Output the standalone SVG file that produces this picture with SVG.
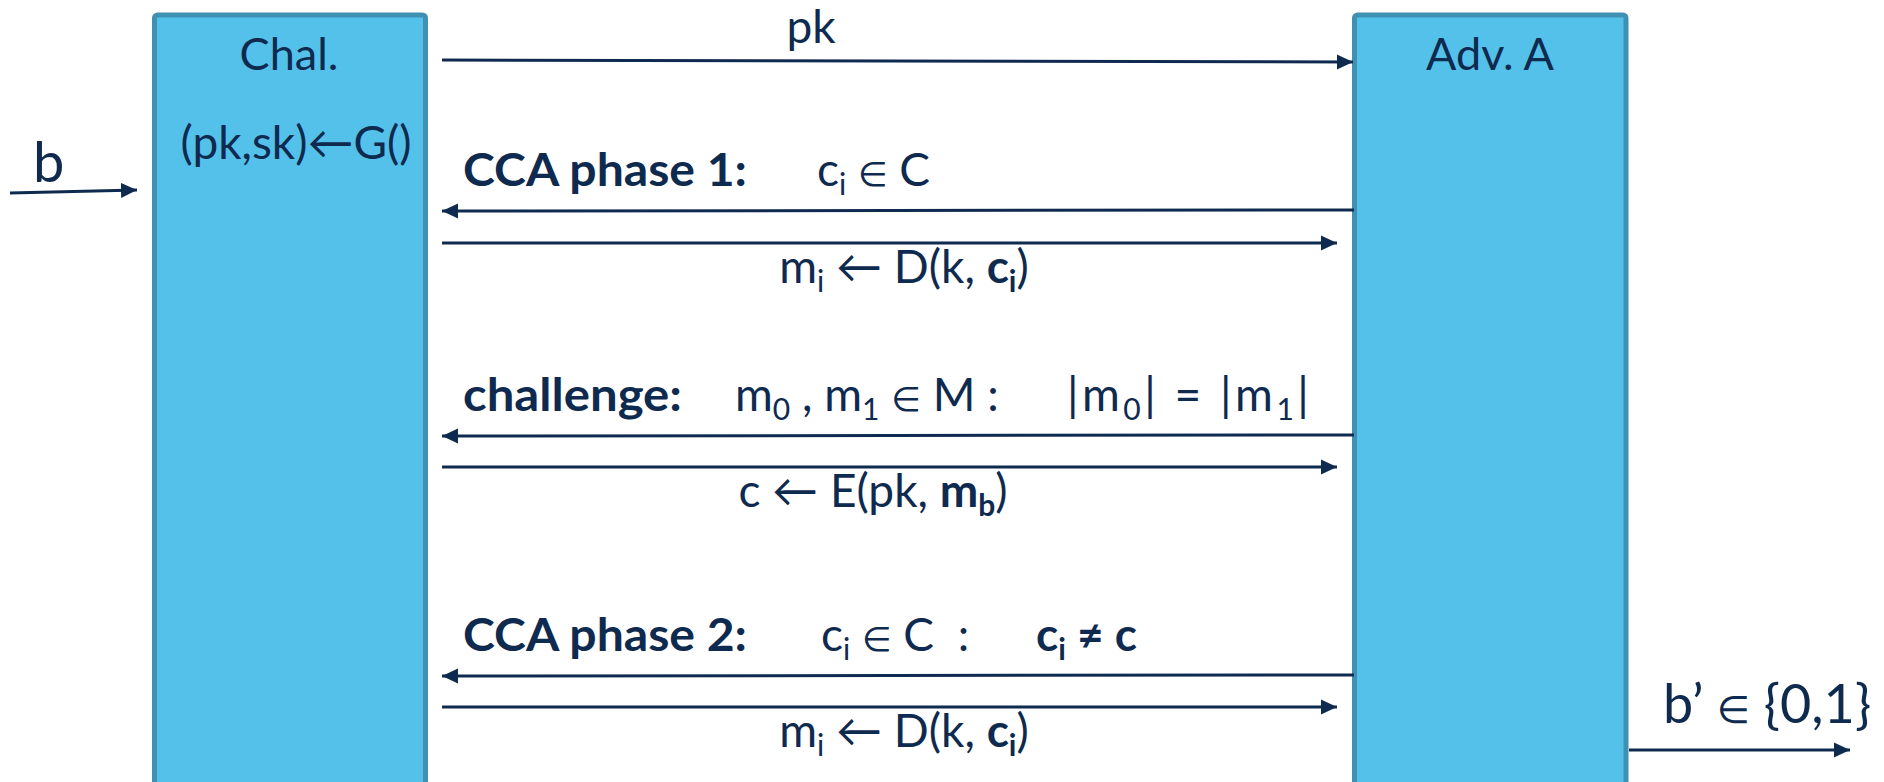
<svg xmlns="http://www.w3.org/2000/svg" width="1884" height="782" viewBox="0 0 1884 782">
<defs>
<marker id="ah" markerUnits="userSpaceOnUse" markerWidth="17" markerHeight="16" refX="16" refY="8" orient="auto">
<path d="M0,0.5 L16,8 L0,15.5 z" fill="#0F2A4F"/>
</marker>
<style>
.box{fill:#54C1EA;stroke:#3F91B3;stroke-width:5}
.t{font-family:Lato,"DejaVu Sans",sans-serif;font-size:46px;fill:#0F2A4F}
.b{font-weight:bold}
.sub{font-size:30px}
.el{font-family:"DejaVu Sans",sans-serif;font-size:34px}
.big{font-size:56px}
.ln{stroke:#0F2A4F;stroke-width:3;fill:none;marker-end:url(#ah)}
</style>
</defs>
<rect width="1884" height="782" fill="#FFFFFF"/>
<g id="chal">
<rect class="box" x="154.5" y="15" width="271" height="770" rx="3"/>
<text class="t" x="289" y="70" text-anchor="middle" style="font-size:45px">Chal.</text>
<text class="t" x="296" y="159" text-anchor="middle" textLength="231" lengthAdjust="spacingAndGlyphs">(pk,sk)←G()</text>
</g>
<g id="adv">
<rect class="box" x="1354.5" y="15" width="271.5" height="770" rx="3"/>
<text class="t" x="1490" y="70" text-anchor="middle" style="font-size:45px">Adv. A</text>
</g>
<g id="connectors">
<line class="ln" x1="10" y1="193" x2="137" y2="190"/>
<line class="ln" x1="442" y1="60" x2="1353" y2="62"/>
<line class="ln" x1="1354" y1="210" x2="442" y2="211"/>
<line class="ln" x1="442" y1="243" x2="1337" y2="243"/>
<line class="ln" x1="1354" y1="435" x2="442" y2="436"/>
<line class="ln" x1="442" y1="467" x2="1337" y2="467"/>
<line class="ln" x1="1354" y1="675" x2="442" y2="676"/>
<line class="ln" x1="442" y1="707" x2="1337" y2="707"/>
<line class="ln" x1="1629" y1="750" x2="1850" y2="750"/>
</g>
<g id="labels">
<text class="t big" x="33" y="182">b</text>
<text class="t" x="811" y="43" text-anchor="middle">pk</text>
<text class="t b" x="463" y="186" textLength="284" lengthAdjust="spacingAndGlyphs">CCA phase 1:</text>
<text class="t" x="817" y="186">c<tspan class="sub" dy="9">i</tspan><tspan dy="-9"> <tspan class="el">∈</tspan> C</tspan></text>
<text class="t" x="904" y="283" text-anchor="middle">m<tspan class="sub" dy="9">i</tspan><tspan dy="-9"> ← D(k, </tspan><tspan class="b">c</tspan><tspan class="sub b" dy="9">i</tspan><tspan dy="-9">)</tspan></text>
<text class="t b" x="463" y="411" textLength="219" lengthAdjust="spacingAndGlyphs">challenge:</text>
<text class="t" x="735" y="411">m<tspan class="sub" dy="9">0</tspan><tspan dy="-9"> , m</tspan><tspan class="sub" dy="9">1</tspan><tspan dy="-9"> <tspan class="el">∈</tspan> M :</tspan></text>
<text class="t" x="1067" y="411" letter-spacing="3.5">|m<tspan class="sub" dy="9">0</tspan><tspan dy="-9">| = |m</tspan><tspan class="sub" dy="9">1</tspan><tspan dy="-9">|</tspan></text>
<text class="t" x="873" y="507" text-anchor="middle">c ← E(pk, <tspan class="b">m</tspan><tspan class="sub b" dy="9">b</tspan><tspan dy="-9">)</tspan></text>
<text class="t b" x="463" y="651" textLength="284" lengthAdjust="spacingAndGlyphs">CCA phase 2:</text>
<text class="t" x="821" y="651">c<tspan class="sub" dy="9">i</tspan><tspan dy="-9"> <tspan class="el">∈</tspan> C&#160;&#160;:</tspan></text>
<text class="t b" x="1036" y="651">c<tspan class="sub" dy="9">i</tspan><tspan dy="-9"> ≠ c</tspan></text>
<text class="t" x="904" y="747" text-anchor="middle">m<tspan class="sub" dy="9">i</tspan><tspan dy="-9"> ← D(k, </tspan><tspan class="b">c</tspan><tspan class="sub b" dy="9">i</tspan><tspan dy="-9">)</tspan></text>
<text class="t" x="1663" y="723" style="font-size:54px">b’ <tspan class="el" style="font-size:38px">∈</tspan> {0,1}</text>
</g>
</svg>
